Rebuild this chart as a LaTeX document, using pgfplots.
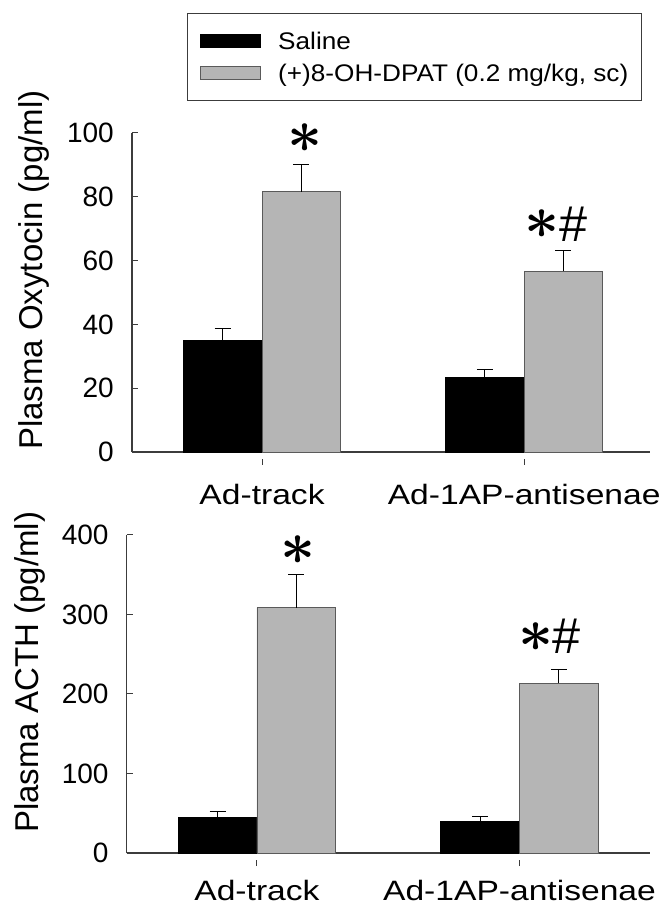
\documentclass[border=0pt]{standalone}
\usepackage{fontspec}
\setmainfont{Liberation Sans}
\newfontfamily\widefont[FakeStretch=1.2]{Liberation Sans}
\newfontfamily\legfont[FakeStretch=1.09]{Liberation Sans}
\usepackage{bm}
\usepackage{graphicx}
\usepackage{pgfplots}
\usepackage{pgfplotstable}
\pgfplotsset{compat=1.18}
\definecolor{barg}{RGB}{181,181,181}
\definecolor{barline}{RGB}{90,90,90}
\definecolor{axline}{RGB}{60,60,60}
\newcommand{\sig}{\scalebox{2.45}{\fontsize{24.88}{24.88}\selectfont$\bm{\ast}$}}
\newcommand{\hash}{\scalebox{1.8}{\fontsize{28}{28}\selectfont\#}}

\pgfplotstableread{
x y e
0 35.0 3.6
1 23.3 2.7
}\oxysal
\pgfplotstableread{
x y e
0 81.6 8.4
1 56.7 6.6
}\oxydpat
\pgfplotstableread{
x y e
0 44.4 7.6
1 39.4 5.9
}\acthsal
\pgfplotstableread{
x y e
0 308.6 41.4
1 213.6 17.4
}\acthdpat

\pgfplotsset{
  panel/.style={
    scale only axis, clip=false,
    axis x line=bottom, axis y line=left,
    axis line style={-, line width=1.2pt, draw=axline},
    tick align=inside, major tick length=6pt,
    tick style={line width=1pt, draw=axline},
    xtick style={yshift=-7pt},
    xtick={0,1}, xticklabels={Ad-track, Ad-1AP-antisenae},
    xticklabel style={font=\widefont\fontsize{28}{28}\selectfont, inner sep=0pt, anchor=north},
    yticklabel style={font=\fontsize{28}{28}\selectfont, inner sep=0pt, anchor=east},
    /pgf/number format/assume math mode=true,
    yticklabel shift=18pt,
    ylabel style={font=\fontsize{33}{33}\selectfont, anchor=base, inner sep=0pt},
    ybar, bar width=0.3, ymin=0,
  },
  salbar/.style={fill=black, draw=black, line width=0.8pt, bar shift=-0.15,
    error bars/.cd, y dir=plus, y explicit, error mark=-,
    error mark options={rotate=90, line width=1pt, mark size=8pt, black},
    error bar style={line width=1pt, black}},
  dpatbar/.style={fill=barg, draw=barline, line width=0.8pt, bar shift=0.15,
    error bars/.cd, y dir=plus, y explicit, error mark=-,
    error mark options={rotate=90, line width=1pt, mark size=8pt, black},
    error bar style={line width=1pt, black}},
}

\begin{document}
\begin{tikzpicture}
\path[use as bounding box] (0pt,0pt) rectangle (660pt,911pt);

% ---------- top panel ----------
\begin{axis}[panel,
  at={(132pt,459pt)}, anchor=south west,
  width=518pt, height=319pt,
  xmin=-0.496, xmax=1.48, ymax=100,
  ytick={0,20,...,100},
  xticklabel shift=26pt,
  ylabel={Plasma Oxytocin (pg/ml)},
  ylabel style={at={(axis description cs:-0.172,0.57)}},
  legend style={at={(axis description cs:0.106,1.376)}, anchor=north west,
    draw=axline, line width=1pt, fill=white,
    inner xsep=13pt, inner ysep=19pt, row sep=15pt,
    font=\legfont\fontsize{24}{24}\selectfont,
    nodes={inner sep=0pt, text height=17pt, text depth=0pt},
    /tikz/every odd column/.append style={column sep=17pt}},
  legend cell align=left,
  legend image code/.code={\draw[#1, line width=0.8pt] (0pt,-6.5pt) rectangle (60pt,6.5pt);},
]
\addplot[salbar] table[x=x, y=y, y error=e] {\oxysal};
\addlegendentry{Saline}
\addplot[dpatbar] table[x=x, y=y, y error=e] {\oxydpat};
\addlegendentry{(+)8-OH-DPAT (0.2 mg/kg, sc)}
\node[inner sep=0pt] at (axis cs:0.164,98.3) {\sig};
\node[inner sep=0pt] at (axis cs:1.069,71.3) {\sig};
\node[inner sep=0pt] at (axis cs:1.19,71.3) {\hash};
\end{axis}

% ---------- bottom panel ----------
\begin{axis}[panel,
  at={(126.7pt,58pt)}, anchor=south west,
  width=523.3pt, height=318pt,
  xmin=-0.496, xmax=1.497, ymax=400,
  ytick={0,100,...,400},
  xticklabel shift=21pt,
  ylabel={Plasma ACTH (pg/ml)},
  ylabel style={at={(axis description cs:-0.169,0.568)}},
]
\addplot[salbar] table[x=x, y=y, y error=e] {\acthsal};
\addplot[dpatbar] table[x=x, y=y, y error=e] {\acthdpat};
\node[inner sep=0pt] at (axis cs:0.158,381) {\sig};
\node[inner sep=0pt] at (axis cs:1.064,272) {\sig};
\node[inner sep=0pt] at (axis cs:1.18,272) {\hash};
\end{axis}
\end{tikzpicture}
\end{document}
